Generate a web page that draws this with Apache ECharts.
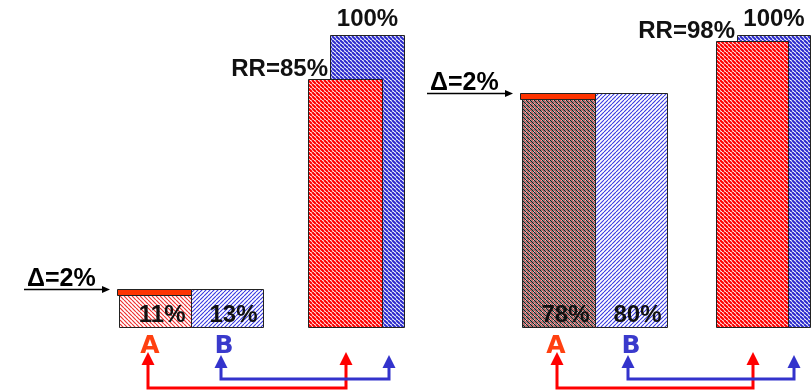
<!DOCTYPE html>
<html>
<head>
<meta charset="utf-8">
<script src="https://cdn.jsdelivr.net/npm/echarts@6/dist/echarts.min.js"></script>
<style>
  html, body { margin: 0; padding: 0; background: #fff; }
  #chart { width: 812px; height: 390px; }
</style>
</head>
<body>
<div id="chart"></div>
<script>
// Response rates (%) of arms A and B in two trials, and the relative rates (RR)
const arms = ['A', 'B'];
const trial1Rates = [11, 13];
const trial1Relative = [85, 100];
const trial2Rates = [78, 80];
const trial2Relative = [98, 100];

// Horizontal slots of every bar, in x-axis units (axis spans 0..812)
const slots = {
  t1A: [119, 191], t1B: [191, 263], t1RelA: [308, 382], t1RelB: [330, 404],
  t2A: [522, 595], t2B: [595, 667], t2RelA: [716, 788], t2RelB: [737, 810]
};
// x positions of the connector arrows (from arm to relative bar)
const connectors = [
  { from: 148, to: 346, color: '#ff0000', lane: 388 },
  { from: 221, to: 389, color: '#3333cc', lane: 379 },
  { from: 557, to: 753, color: '#ff0000', lane: 388 },
  { from: 628, to: 794, color: '#3333cc', lane: 379 }
];
const armLetterX = [[150, 224], [556, 631]];

const FONT = '"Liberation Sans", Arial, sans-serif';

// Diagonal hatch pattern tiles
function hatch(bg, period, dir, strokes) {
  const c = document.createElement('canvas');
  c.width = c.height = period;
  const g = c.getContext('2d');
  g.fillStyle = bg;
  g.fillRect(0, 0, period, period);
  strokes.forEach(([color, width, off]) => {
    g.strokeStyle = color;
    g.lineWidth = width;
    g.beginPath();
    for (let k = -period; k <= period; k += period) {
      if (dir === '\\') { g.moveTo(k + off, 0); g.lineTo(k + off + period, period); }
      else { g.moveTo(k + off, period); g.lineTo(k + off + period, 0); }
    }
    g.stroke();
  });
  return { image: c, repeat: 'repeat' };
}

const fills = {
  redStrong: hatch('#ffffff', 4, '\\', [['#ff0000', 2.2, 0]]),
  blueStrong: hatch('#ffffff', 4, '\\', [['#2a2acc', 2.0, 0]]),
  redLight: hatch('#ffffff', 4, '\\', [['#ee3030', 1.2, 0]]),
  blueLight: hatch('#ffffff', 4, '/', [['#3838e0', 1.1, 0]]),
  redDark: hatch('#ffffff', 4, '\\', [['#e02020', 0.8, 0], ['#1e1e1e', 1.4, 2]]),
  delta: '#ff3300'
};

// Bars, drawn in this order (later ones on top)
const bars = [
  { slot: 't1A', base: 0, top: trial1Rates[0], fill: fills.redLight, text: trial1Rates[0] + '%', pos: 'inside' },
  { slot: 't1B', base: 0, top: trial1Rates[1], fill: fills.blueLight, text: trial1Rates[1] + '%', pos: 'inside' },
  { slot: 't1A', base: trial1Rates[0], top: trial1Rates[1], fill: fills.delta, widen: 2 },
  { slot: 't1RelB', base: 0, top: trial1Relative[1], fill: fills.blueStrong, text: trial1Relative[1] + '%', pos: 'top' },
  { slot: 't1RelA', base: 0, top: trial1Relative[0], fill: fills.redStrong, text: 'RR=' + trial1Relative[0] + '%', pos: 'rr', ref: 't1RelB' },
  { slot: 't2A', base: 0, top: trial2Rates[0], fill: fills.redDark, text: trial2Rates[0] + '%', pos: 'inside' },
  { slot: 't2B', base: 0, top: trial2Rates[1], fill: fills.blueLight, text: trial2Rates[1] + '%', pos: 'inside' },
  { slot: 't2A', base: trial2Rates[0], top: trial2Rates[1], fill: fills.delta, widen: 2 },
  { slot: 't2RelB', base: 0, top: trial2Relative[1], fill: fills.blueStrong, text: trial2Relative[1] + '%', pos: 'top' },
  { slot: 't2RelA', base: 0, top: trial2Relative[0], fill: fills.redStrong, text: 'RR=' + trial2Relative[0] + '%', pos: 'rr', ref: 't2RelB' }
];

function renderBar(params, api) {
  const b = bars[params.dataIndex];
  const [x0, x1] = slots[b.slot];
  const pTop = api.coord([x0 - (b.widen || 0), b.top]);
  const pBase = api.coord([x1, b.base]);
  const x = Math.round(pTop[0]) + 0.5, y = Math.round(pTop[1]) + 0.5;
  const w = Math.round(pBase[0]) - Math.round(pTop[0]);
  const h = Math.round(pBase[1]) - Math.round(pTop[1]);
  const children = [{
    type: 'rect',
    shape: { x, y, width: w, height: h },
    style: { fill: b.fill, stroke: '#222', lineWidth: 1 }
  }];
  if (b.text) {
    const font = 'bold 24px ' + FONT;
    let tx, ty, align;
    if (b.pos === 'inside') { tx = x + w - 6; ty = y + h - 12; align = 'right'; }
    else if (b.pos === 'top') { tx = x + w / 2; ty = y - 16; align = 'center'; }
    else { tx = api.coord([slots[b.ref][0], 0])[0] - 2; ty = y - 10; align = 'right'; }
    children.push({
      type: 'text',
      style: { text: b.text, x: tx, y: ty, align, verticalAlign: 'middle', font, fill: '#111' }
    });
  }
  return { type: 'group', children };
}

const chart = echarts.init(document.getElementById('chart'), null, { renderer: 'canvas' });
chart.setOption({
  animation: false,
  backgroundColor: '#ffffff',
  grid: { left: 0, right: 0, top: 35, bottom: 63 },
  xAxis: { type: 'value', min: 0, max: 812, show: false },
  yAxis: { type: 'value', min: 0, max: 100, show: false },
  series: [{
    type: 'custom',
    renderItem: renderBar,
    clip: false,
    encode: { x: 0, y: 1 },
    data: bars.map(b => [(slots[b.slot][0] + slots[b.slot][1]) / 2, b.top])
  }]
});

// Annotations: delta markers, arm letters and connector arrows
const px = (x, v) => chart.convertToPixel({ gridIndex: 0 }, [x, v]);
const graphics = [];

[[slots.t1A, trial1Rates], [slots.t2A, trial2Rates]].forEach(([slot, rates]) => {
  const p = px(slot[0], rates[1]);
  const y = Math.round(p[1]) + 0.5;
  const end = p[0] - 9;
  const start = end - 86;
  graphics.push(
    { type: 'polyline', shape: { points: [[start, y], [end - 6, y]] }, style: { stroke: '#000', lineWidth: 1.5 } },
    { type: 'polygon', shape: { points: [[end - 8, y - 3.5], [end, y], [end - 8, y + 3.5]] }, style: { fill: '#000' } },
    { type: 'text', style: { text: '\u0394=' + (rates[1] - rates[0]) + '%', x: start + 3, y: y - 10, verticalAlign: 'middle', font: 'bold 25px ' + FONT, fill: '#000' } }
  );
});

armLetterX.forEach(pair => {
  pair.forEach((x, i) => {
    graphics.push({
      type: 'text',
      style: { text: arms[i], x, y: 346, align: 'center', verticalAlign: 'middle', font: 'bold 25px "DejaVu Sans", sans-serif', fill: i === 0 ? '#ff4010' : '#3a3acc' }
    });
  });
});

connectors.forEach(c => {
  const tip = c.color === '#ff0000' ? 352 : 355;
  graphics.push(
    { type: 'polyline', shape: { points: [[c.from, tip + 10], [c.from, c.lane], [c.to, c.lane], [c.to, tip + 10]] }, style: { stroke: c.color, lineWidth: 3, lineJoin: 'miter' } },
    { type: 'polygon', shape: { points: [[c.from - 6.5, tip + 13], [c.from, tip], [c.from + 6.5, tip + 13]] }, style: { fill: c.color } },
    { type: 'polygon', shape: { points: [[c.to - 6.5, tip + 13], [c.to, tip], [c.to + 6.5, tip + 13]] }, style: { fill: c.color } }
  );
});

chart.setOption({ graphic: { elements: graphics } });
</script>
</body>
</html>
